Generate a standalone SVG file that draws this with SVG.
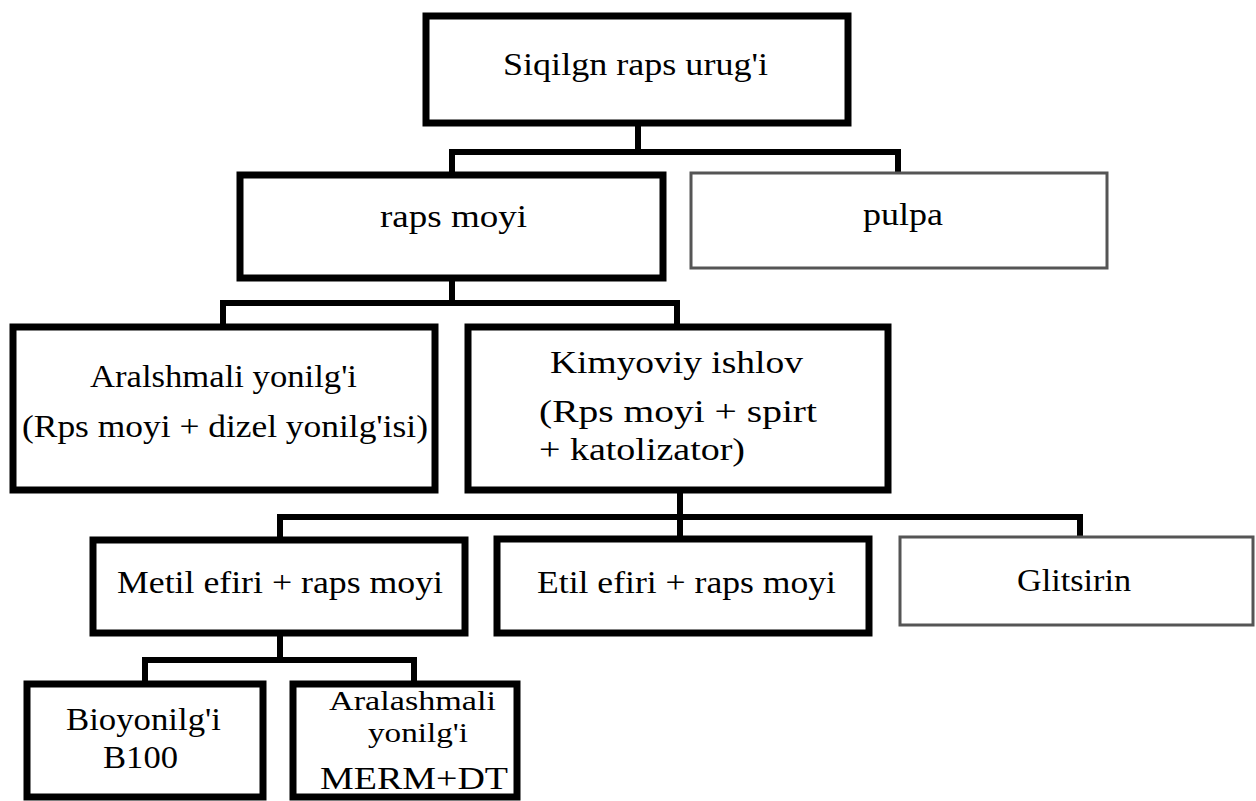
<svg xmlns="http://www.w3.org/2000/svg" width="1256" height="801" viewBox="0 0 1256 801">
<style>
.box{fill:#fff;stroke:#000;stroke-width:7;stroke-linejoin:miter}
.thin{fill:#fff;stroke:#555;stroke-width:3}
.con{fill:none;stroke:#000;stroke-width:6;stroke-linejoin:miter}
.t{font-family:"Liberation Serif","Times New Roman",Times,serif;font-size:31px;fill:#000}
.s{font-size:28px}
</style>
<rect width="1256" height="801" fill="#fff"/>
<g id="connectors">
<path class="con" d="M638 123V152M452 175V152H898V173"/>
<path class="con" d="M452 278V303M223 327V303H677V327"/>
<path class="con" d="M680 490V539M280 540V517H1080V537"/>
<path class="con" d="M280 633V660M145 684V660H414V684"/>
</g>
<g id="n1"><rect class="box" x="426" y="16" width="422" height="107"/><text class="t" font-family="Liberation Serif" x="503" y="75" textLength="265" lengthAdjust="spacingAndGlyphs">Siqilgn raps urug'i</text></g>
<g id="n2"><rect class="box" x="240" y="175" width="423" height="103"/><text class="t" x="380" y="227" textLength="147" lengthAdjust="spacingAndGlyphs">raps moyi</text></g>
<g id="n3"><rect class="thin" x="691" y="173" width="416" height="95"/><text class="t" x="863" y="225" textLength="80" lengthAdjust="spacingAndGlyphs">pulpa</text></g>
<g id="n4"><rect class="box" x="13" y="327" width="422" height="163"/><text class="t" x="90" y="387" textLength="267" lengthAdjust="spacingAndGlyphs">Aralshmali yonilg'i</text><text class="t" x="22" y="437" textLength="406" lengthAdjust="spacingAndGlyphs">(Rps moyi + dizel yonilg'isi)</text></g>
<g id="n5"><rect class="box" x="468" y="327" width="420" height="163"/><text class="t" x="550" y="373" textLength="253" lengthAdjust="spacingAndGlyphs">Kimyoviy ishlov</text><text class="t" x="539" y="422" textLength="278" lengthAdjust="spacingAndGlyphs">(Rps moyi + spirt</text><text class="t" x="539" y="460" textLength="206" lengthAdjust="spacingAndGlyphs">+ katolizator)</text></g>
<g id="n6"><rect class="box" x="93" y="540" width="372" height="93"/><text class="t" x="117" y="593" textLength="326" lengthAdjust="spacingAndGlyphs">Metil efiri + raps moyi</text></g>
<g id="n7"><rect class="box" x="497" y="539" width="372" height="94"/><text class="t" x="537" y="593" textLength="299" lengthAdjust="spacingAndGlyphs">Etil efiri + raps moyi</text></g>
<g id="n8"><rect class="thin" x="900" y="537" width="353" height="88"/><text class="t" x="1017" y="591" textLength="114" lengthAdjust="spacingAndGlyphs">Glitsirin</text></g>
<g id="n9"><rect class="box" x="27" y="684" width="236" height="113"/><text class="t" x="66" y="730" textLength="155" lengthAdjust="spacingAndGlyphs">Bioyonilg'i</text><text class="t" x="103" y="768" textLength="75" lengthAdjust="spacingAndGlyphs">B100</text></g>
<g id="n10"><rect class="box" x="293" y="684" width="224" height="113"/><text class="t s" x="329" y="710" textLength="167" lengthAdjust="spacingAndGlyphs">Aralashmali</text><text class="t s" x="368" y="742" textLength="100" lengthAdjust="spacingAndGlyphs">yonilg'i</text><text class="t" x="320" y="789" textLength="188" lengthAdjust="spacingAndGlyphs">MERM+DT</text></g>
</svg>
